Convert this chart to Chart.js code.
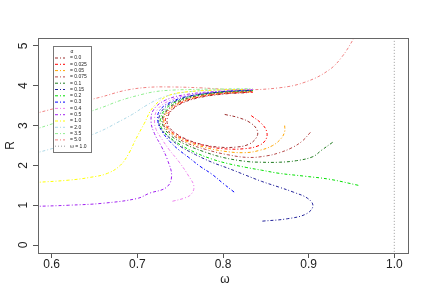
<!DOCTYPE html>
<html>
<head>
<meta charset="utf-8">
<script src="https://cdn.jsdelivr.net/npm/chart.js@4.4.1/dist/chart.umd.min.js"></script>
<style>
 html, body { margin: 0; padding: 0; background: #fff; }
</style>
</head>
<body>
<canvas id="chart" width="432" height="300"></canvas>
<script>
// axis ticks
const xTicks = [0.6, 0.7, 0.8, 0.9, 1.0];
const yTicks = [0, 1, 2, 3, 4, 5];

// one curve per alpha, points are [omega, R]
const alphas = ['0.0', '0.025', '0.05', '0.075', '0.1', '0.15', '0.2', '0.3', '0.4', '0.5', '1.0', '2.0', '3.5', '5.0'];
const colors = ['#9b2d2d', '#ff0000', '#ffa500', '#b54848', '#1f7a1f', '#22229a', '#00e000',
 '#0000ff', '#ee82ee', '#a020f0', '#ffff00', '#add8e6', '#90ee90', '#f08080'];

const a0_000 = [[0.802, 3.28], [0.818, 3.2], [0.832, 3.07], [0.840, 2.88], [0.839, 2.70], [0.830, 2.53], [0.815, 2.46],
 [0.795, 2.46], [0.775, 2.53], [0.757, 2.66], [0.744, 2.82], [0.736, 3.0], [0.735, 3.18], [0.740, 3.38],
 [0.752, 3.56], [0.772, 3.70], [0.80, 3.79], [0.83, 3.83]];
const a0_025 = [[0.833, 3.25], [0.845, 3.05], [0.851, 2.85], [0.850, 2.65], [0.842, 2.50], [0.825, 2.42], [0.80, 2.42],
 [0.778, 2.50], [0.758, 2.63], [0.743, 2.80], [0.734, 3.0], [0.733, 3.18], [0.739, 3.38], [0.751, 3.57],
 [0.771, 3.71], [0.80, 3.80], [0.835, 3.84]];
const a0_050 = [[0.872, 3.0], [0.872, 2.85], [0.868, 2.68], [0.858, 2.50], [0.843, 2.38], [0.825, 2.32], [0.80, 2.36],
 [0.778, 2.46], [0.758, 2.60], [0.742, 2.78], [0.733, 2.98], [0.731, 3.18], [0.737, 3.39], [0.750, 3.58],
 [0.770, 3.72], [0.80, 3.81], [0.835, 3.85]];
const a0_075 = [[0.902, 2.83], [0.893, 2.62], [0.881, 2.45], [0.866, 2.32], [0.851, 2.24], [0.83, 2.2], [0.805, 2.27],
 [0.78, 2.4], [0.758, 2.56], [0.742, 2.75], [0.732, 2.96], [0.730, 3.18], [0.736, 3.4], [0.749, 3.59],
 [0.769, 3.73], [0.80, 3.82], [0.835, 3.86]];
const a0_100 = [[0.928, 2.58], [0.915, 2.38], [0.905, 2.22], [0.886, 2.12], [0.866, 2.08], [0.845, 2.08], [0.827, 2.1],
 [0.80, 2.2], [0.777, 2.35], [0.756, 2.53], [0.740, 2.73], [0.731, 2.95], [0.729, 3.18], [0.735, 3.41],
 [0.748, 3.6], [0.768, 3.74], [0.80, 3.83], [0.835, 3.87]];
const a0_150 = [[0.846, 0.6], [0.875, 0.66], [0.897, 0.78], [0.905, 0.98], [0.899, 1.17], [0.882, 1.33], [0.866, 1.45],
 [0.845, 1.6], [0.827, 1.75], [0.807, 1.92], [0.787, 2.08], [0.768, 2.27], [0.750, 2.48], [0.737, 2.7],
 [0.727, 2.94], [0.725, 3.18], [0.731, 3.43], [0.745, 3.62], [0.766, 3.76], [0.80, 3.85], [0.835, 3.88]];
const a0_200 = [[0.958, 1.5], [0.925, 1.65], [0.895, 1.73], [0.866, 1.8], [0.845, 1.88], [0.827, 1.95], [0.805, 2.05],
 [0.787, 2.16], [0.768, 2.32], [0.750, 2.52], [0.737, 2.72], [0.728, 2.95], [0.727, 3.18], [0.733, 3.42],
 [0.746, 3.61], [0.767, 3.75], [0.80, 3.84], [0.835, 3.88]];
const a0_300 = [[0.813, 1.33], [0.800, 1.55], [0.787, 1.78], [0.773, 1.98], [0.760, 2.2], [0.749, 2.38], [0.738, 2.6],
 [0.729, 2.85], [0.724, 3.1], [0.726, 3.38], [0.740, 3.6], [0.762, 3.75], [0.80, 3.85], [0.835, 3.89]];
const a0_400 = [[0.741, 1.1], [0.755, 1.18], [0.763, 1.28], [0.766, 1.48], [0.760, 1.73], [0.749, 2.08], [0.737, 2.4],
 [0.729, 2.65], [0.722, 2.9], [0.720, 3.15], [0.724, 3.42], [0.738, 3.63], [0.760, 3.77], [0.80, 3.86], [0.835, 3.9]];
const a0_500 = [[0.58, 0.97], [0.62, 1.0], [0.66, 1.05], [0.70, 1.17], [0.714, 1.3], [0.734, 1.45], [0.740, 1.73],
 [0.735, 2.15], [0.728, 2.48], [0.720, 2.8], [0.716, 3.1], [0.719, 3.4], [0.733, 3.64], [0.757, 3.78],
 [0.80, 3.87], [0.835, 3.9]];
const a1_000 = [[0.58, 1.57], [0.62, 1.63], [0.645, 1.7], [0.665, 1.8], [0.68, 2.0], [0.69, 2.3], [0.698, 2.65],
 [0.708, 3.05], [0.718, 3.45], [0.735, 3.74], [0.755, 3.84], [0.79, 3.89], [0.83, 3.91]];
const a2_000 = [[0.58, 2.3], [0.62, 2.55], [0.658, 2.87], [0.676, 3.07], [0.694, 3.28], [0.71, 3.5], [0.726, 3.68],
 [0.745, 3.8], [0.77, 3.87], [0.80, 3.9], [0.83, 3.92]];
const a3_500 = [[0.58, 2.9], [0.62, 3.18], [0.658, 3.45], [0.68, 3.63], [0.703, 3.77], [0.72, 3.85], [0.74, 3.89],
 [0.77, 3.91], [0.80, 3.92], [0.835, 3.93]];
const a5_000 = [[0.58, 3.3], [0.62, 3.52], [0.658, 3.72], [0.685, 3.88], [0.712, 3.96], [0.74, 3.97], [0.772, 3.95],
 [0.819, 3.9], [0.866, 3.95], [0.897, 4.1], [0.924, 4.4], [0.939, 4.73], [0.953, 5.2], [0.958, 5.4]];

const curves = [a0_000, a0_025, a0_050, a0_075, a0_100, a0_150, a0_200, a0_300, a0_400, a0_500, a1_000, a2_000, a3_500, a5_000];

// vertical reference at omega = 1
const omegaRef = 1.0;
const refR = [-1, 6];

const FONT = "'Liberation Sans', Arial, sans-serif";
const dotdash = [3, 2, 1, 2];

const datasets = curves.map((pts, i) => ({
 label: '= ' + alphas[i],
 data: pts.map(p => ({ x: p[0], y: p[1] })),
 borderColor: colors[i],
 borderWidth: 1,
 borderDash: dotdash,
 tension: 0.4,
 pointRadius: 0,
 showLine: true,
 fill: false,
}));
datasets.push({
 label: 'ω = 1.0',
 data: refR.map(r => ({ x: omegaRef, y: r })),
 borderColor: '#999',
 borderWidth: 1,
 borderDash: [1, 2],
 pointRadius: 0,
 showLine: true,
 fill: false,
});

// R style box, tick labels, axis titles and legend
const rStyle = {
 id: 'rStyle',
 afterDraw(chart) {
 const { ctx, chartArea: a, scales } = chart;
 ctx.save();
 ctx.strokeStyle = '#666';
 ctx.lineWidth = 1;
 ctx.setLineDash([]);
 ctx.strokeRect(a.left + 0.5, a.top + 0.5, a.right - a.left, a.bottom - a.top);

 ctx.fillStyle = '#222';
 ctx.font = '12px ' + FONT;
 ctx.textAlign = 'center';
 ctx.textBaseline = 'middle';
 scales.x.ticks.forEach(t => {
 ctx.fillText(t.value.toFixed(1), scales.x.getPixelForValue(t.value), 265);
 });
 scales.y.ticks.forEach(t => {
 ctx.save();
 ctx.translate(24, scales.y.getPixelForValue(t.value));
 ctx.rotate(-Math.PI / 2);
 ctx.fillText(String(t.value), 0, 0);
 ctx.restore();
 });

 ctx.fillText('ω', (a.left + a.right) / 2 + 2, 280);
 ctx.save();
 ctx.translate(11, (a.top + a.bottom) / 2);
 ctx.rotate(-Math.PI / 2);
 ctx.fillText('R', 0, 0);
 ctx.restore();

 // legend
 const lx = 53, ly = 46, lw = 38, lh = 106;
 ctx.fillStyle = '#fff';
 ctx.fillRect(lx, ly, lw, lh);
 ctx.strokeStyle = '#777';
 ctx.strokeRect(lx + 0.5, ly + 0.5, lw, lh);
 ctx.fillStyle = '#222';
 ctx.font = '5px ' + FONT;
 ctx.fillText('α', lx + lw / 2, 51.5);
 ctx.textAlign = 'left';
 chart.data.datasets.forEach((ds, i) => {
 const y = 58 + i * 6.3;
 ctx.strokeStyle = ds.borderColor;
 ctx.lineWidth = 1;
 ctx.setLineDash(ds.borderDash);
 ctx.beginPath();
 ctx.moveTo(55, y);
 ctx.lineTo(65, y);
 ctx.stroke();
 ctx.fillText(ds.label, 70, y);
 });
 ctx.restore();
 }
};

new Chart(document.getElementById('chart'), {
 type: 'scatter',
 data: { datasets },
 plugins: [rStyle],
 options: {
 responsive: false,
 animation: false,
 devicePixelRatio: 1,
 layout: { padding: { left: 0, top: 38, right: 24, bottom: 0 } },
 plugins: { legend: { display: false }, tooltip: { enabled: false } },
 scales: {
 x: {
 type: 'linear',
 min: 0.584,
 max: 1.016,
 afterBuildTicks: s => { s.ticks = xTicks.map(v => ({ value: v })); },
 afterFit: s => { s.height = 47; },
 ticks: { display: false },
 border: { display: false },
 grid: { drawOnChartArea: false, drawTicks: true, tickLength: 5, tickColor: '#555' },
 },
 y: {
 type: 'linear',
 min: -0.2,
 max: 5.2,
 afterBuildTicks: s => { s.ticks = yTicks.map(v => ({ value: v })); },
 afterFit: s => { s.width = 38; },
 ticks: { display: false },
 border: { display: false },
 grid: { drawOnChartArea: false, drawTicks: true, tickLength: 5, tickColor: '#555' },
 },
 },
 },
});
</script>
</body>
</html>
